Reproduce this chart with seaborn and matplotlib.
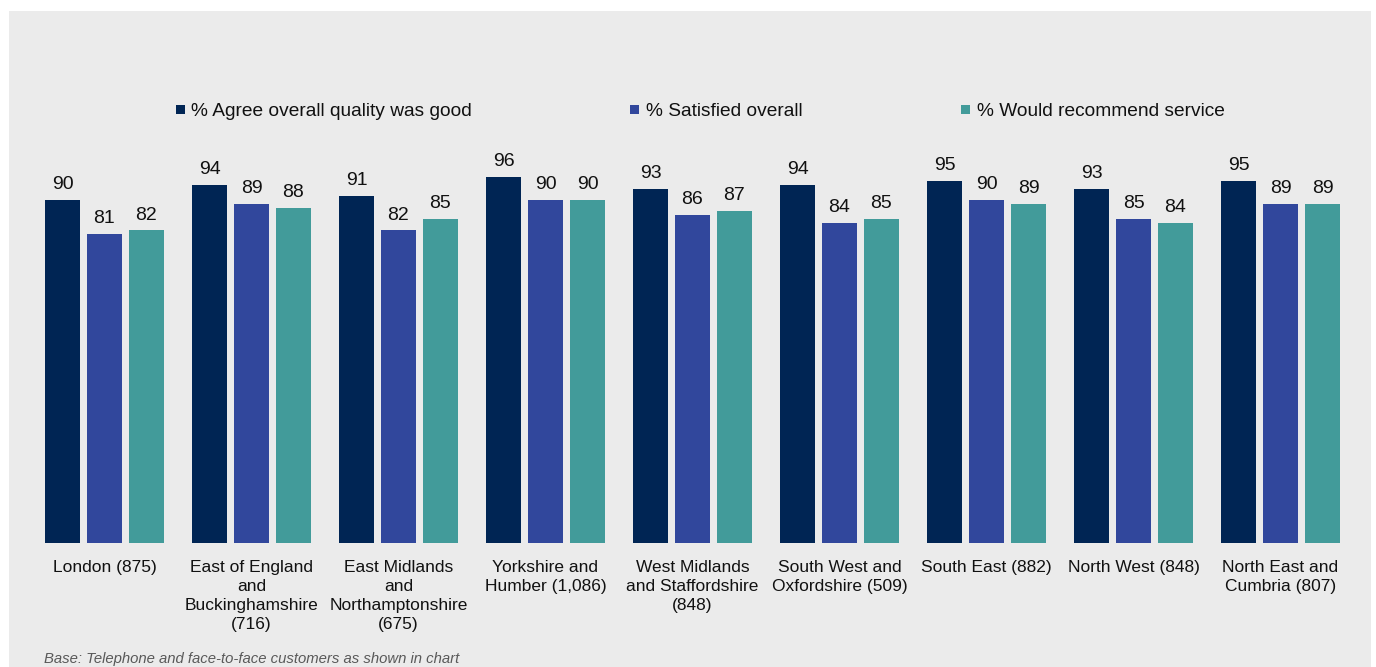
import matplotlib
matplotlib.use("Agg")
import matplotlib.pyplot as plt
import matplotlib.patches as mpatches
import seaborn as sns
import pandas as pd

# ---- data ----
regions = [
    "London (875)",
    "East of England\nand\nBuckinghamshire\n(716)",
    "East Midlands\nand\nNorthamptonshire\n(675)",
    "Yorkshire and\nHumber (1,086)",
    "West Midlands\nand Staffordshire\n(848)",
    "South West and\nOxfordshire (509)",
    "South East (882)",
    "North West (848)",
    "North East and\nCumbria (807)",
]
series_names = [
    "% Agree overall quality was good",
    "% Satisfied overall",
    "% Would recommend service",
]
quality_good = [90, 94, 91, 96, 93, 94, 95, 93, 95]
satisfied = [81, 89, 82, 90, 86, 84, 90, 85, 89]
recommend = [82, 88, 85, 90, 87, 85, 89, 84, 89]
footnote = "Base: Telephone and face-to-face customers as shown in chart"

colors = ["#002554", "#31479C", "#429B9A"]

rows = []
for name, vals in zip(series_names, [quality_good, satisfied, recommend]):
    for r, v in zip(regions, vals):
        rows.append({"region": r, "series": name, "value": v})
df = pd.DataFrame(rows)

plt.rcParams["font.family"] = ["Liberation Sans", "DejaVu Sans"]
plt.rcParams["text.color"] = "#111111"

W, H = 1376, 667
fig = plt.figure(figsize=(W / 100, H / 100), dpi=100, facecolor="white")

# gray panel
fig.patches.append(mpatches.Rectangle((9 / W, 0), 1362 / W, (H - 11) / H,
                                      transform=fig.transFigure,
                                      facecolor="#EBEBEB", edgecolor="none", zorder=-10))

ax = fig.add_axes([9 / W, (H - 543) / H, 1362 / W, (543 - 11) / H])
ax.set_facecolor("none")
ax.set_zorder(1)

sns.barplot(data=df, x="region", y="value", hue="series",
            order=regions, hue_order=series_names, palette=colors,
            width=0.857, gap=0.167, ax=ax, errorbar=None,
            edgecolor="none", linewidth=0, saturation=1)

px_per_unit = 3.811
ax.set_ylim(0, (543 - 11) / px_per_unit)
ax.set_xlim((9 - 104.5) / 147, (1371 - 104.5) / 147)

for cont in ax.containers:
    ax.bar_label(cont, fmt="%d", padding=5, fontsize=14, color="#111111")

for s in ax.spines.values():
    s.set_visible(False)
ax.set_yticks([])
ax.set_xlabel("")
ax.set_ylabel("")
ax.tick_params(axis="x", length=0, pad=12)
for lbl in ax.get_xticklabels():
    lbl.set_fontsize(12.5)
    lbl.set_linespacing(1.33)
    lbl.set_color("#111111")
    lbl.set_va("top")

sns.move_legend(ax, "center", bbox_to_anchor=(700 / W, (H - 112) / H),
                bbox_transform=fig.transFigure, ncol=3, frameon=False,
                title=None, fontsize=13.8, columnspacing=8.24,
                handletextpad=0.36, handlelength=0.47, handleheight=0.34)

fig.text(44 / W, (H - 659) / H, footnote, ha="left", va="center",
         style="italic", color="#595959", fontsize=10.7)

fig.savefig("out.png", dpi=100, facecolor="white")
